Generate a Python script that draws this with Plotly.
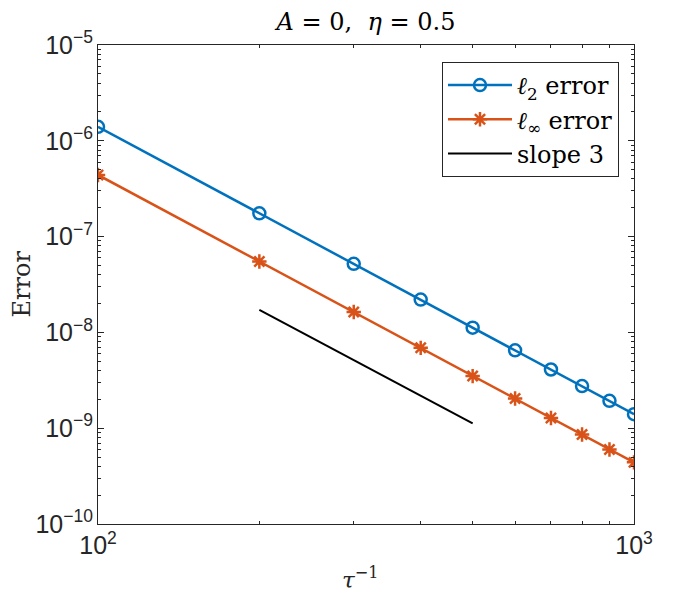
import plotly.graph_objects as go

# inverse time step
tau_inv = [100, 200, 300, 400, 500, 600, 700, 800, 900, 1000]
# errors
err_l2 = [1.40e-6, 1.75e-7, 5.2e-8, 2.2e-8, 1.12e-8, 6.5e-9, 4.1e-9, 2.75e-9, 1.93e-9, 1.40e-9]
err_inf = [4.4e-7, 5.5e-8, 1.63e-8, 6.9e-9, 3.5e-9, 2.04e-9, 1.28e-9, 8.6e-10, 6.0e-10, 4.4e-10]
# reference slope segment
slope_x = [200, 500]
slope_y = [1.72e-8, 1.12e-9]

BLUE = "#0072BD"
ORANGE = "#D95319"
INK = "#262626"
SERIF = "DejaVu Serif, Liberation Serif, serif"
SANS = "Liberation Sans, Arial, sans-serif"

fig = go.Figure()
fig.add_trace(go.Scatter(
    x=tau_inv, y=err_l2, mode="lines+markers",
    name="<i>ℓ</i><sub>2</sub> error",
    line=dict(color=BLUE, width=2.5),
    marker=dict(symbol="circle-open", size=12, color=BLUE, line=dict(width=2.5)),
))
fig.add_trace(go.Scatter(
    x=tau_inv, y=err_inf, mode="lines+markers",
    name="<i>ℓ</i><sub>∞</sub> error",
    line=dict(color=ORANGE, width=2.5),
    marker=dict(symbol="asterisk-open", size=12, color=ORANGE, line=dict(width=2.5)),
))
fig.add_trace(go.Scatter(
    x=slope_x, y=slope_y, mode="lines",
    name="slope 3",
    line=dict(color="black", width=2),
))

axis_common = dict(
    type="log",
    showgrid=False,
    zeroline=False,
    showline=True,
    linecolor=INK,
    linewidth=1.2,
    mirror="ticks",
    ticks="inside",
    ticklen=6,
    tickcolor=INK,
    dtick=1,
    exponentformat="power",
    tickfont=dict(family=SANS, size=20, color=INK),
    minor=dict(ticks="inside", ticklen=3, tickcolor=INK, dtick="D1", showgrid=False),
)

fig.update_xaxes(**axis_common, range=[2, 3])
fig.update_yaxes(**axis_common, range=[-10, -5])

# axis titles placed by hand (browser body adds an 8px offset)
fig.add_annotation(
    text="<i>τ</i><sup>−1</sup>", xref="paper", yref="paper",
    x=0.5, y=0, yshift=-54, xshift=-6, xanchor="center", yanchor="middle",
    showarrow=False, font=dict(family=SERIF, size=23, color=INK),
)
fig.add_annotation(
    text="Error", xref="paper", yref="paper",
    x=0, y=0.5, xshift=-77, xanchor="center", yanchor="middle", textangle=-90,
    showarrow=False, font=dict(family=SERIF, size=24, color=INK),
)

fig.update_layout(
    width=700,
    height=600,
    autosize=False,
    margin=dict(l=90, r=74, t=37, b=84),
    plot_bgcolor="white",
    paper_bgcolor="white",
    title=dict(
        text="<i>A</i> = 0,  <i>η</i> = 0.5",
        x=0.5, xref="paper", xanchor="center",
        y=0.977, yanchor="middle",
        font=dict(family=SERIF, size=24, color="black"),
    ),
    legend=dict(
        x=0.972, y=0.9645, xanchor="right", yanchor="top",
        bgcolor="white",
        bordercolor=INK,
        borderwidth=1,
        itemwidth=64,
        tracegroupgap=0,
        font=dict(family=SERIF, size=24, color="black"),
    ),
)

fig.write_html("out.html")
